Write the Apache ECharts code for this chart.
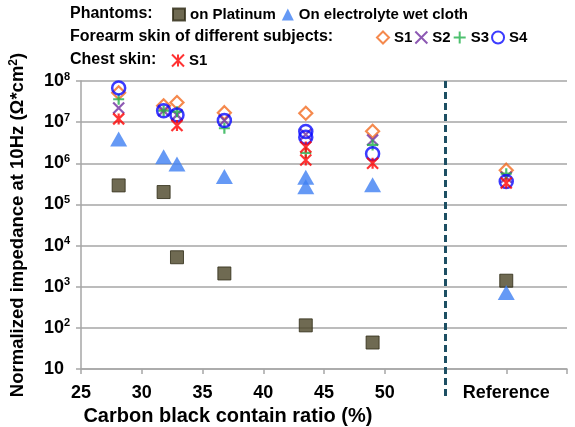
<!DOCTYPE html>
<html><head><meta charset="utf-8">
<script src="https://cdn.jsdelivr.net/npm/echarts@6/dist/echarts.min.js"></script>
<style>html,body{margin:0;padding:0;background:#fff}#c{width:575px;height:427px}</style>
</head><body><div id="c"></div>
<script>
// ---- data ----
const xTickLabelValues = [25, 30, 35, 40, 45, 50, 60];
const xTickValues = [25, 30, 35, 40, 45, 50, 60, 65];
const refX = 60;          // position of the "Reference" column
const dividerX = 55;      // dashed divider
const refLabel = 'Reference';

const platinumX = [28.1, 31.8, 32.9, 36.8, 43.5, 49.0, 60];
const platinumY = [2.9e5, 2.0e5, 5.2e3, 2.1e3, 115, 44, 1.4e3];

const clothX = [28.1, 31.8, 32.9, 36.8, 43.5, 43.5, 49.0, 60];
const clothY = [3.9e6, 1.45e6, 9.6e5, 4.8e5, 4.6e5, 2.7e5, 3.0e5, 7.2e2];

const forearmS1X = [28.1, 31.8, 32.9, 36.8, 43.5, 49.0, 60];
const forearmS1Y = [5.2e7, 2.5e7, 3.0e7, 1.7e7, 1.65e7, 6.0e6, 6.8e5];

const forearmS2X = [28.1, 31.8, 32.9, 36.8, 43.5, 49.0, 60];
const forearmS2Y = [2.2e7, 1.9e7, 1.5e7, 1.1e7, 5.0e6, 3.7e6, 4.6e5];

const forearmS3X = [28.1, 31.8, 32.9, 36.8, 43.5, 49.0, 60];
const forearmS3Y = [3.6e7, 1.9e7, 1.8e7, 7.1e6, 1.8e6, 2.8e6, 5.6e5];

const forearmS4X = [28.1, 31.8, 32.9, 36.8, 43.5, 43.5, 49.0, 60];
const forearmS4Y = [6.8e7, 1.9e7, 1.5e7, 1.1e7, 5.9e6, 4.3e6, 1.7e6, 3.6e5];

const chestS1X = [28.1, 32.9, 43.5, 43.5, 49.0, 60];
const chestS1Y = [1.2e7, 8.3e6, 2.5e6, 1.2e6, 1.0e6, 3.3e5];

const zip = (xs, ys) => xs.map((x, i) => [x, ys[i]]);
const FONT = '"Liberation Sans", Arial, sans-serif';

const chart = echarts.init(document.getElementById('c'), null, {renderer: 'canvas'});
const none = 'rgba(0,0,0,0)';
const legendText = {fontFamily: FONT, fontWeight: 'bold', fontSize: 15, color: '#000'};

const option = {
  animation: false,
  backgroundColor: '#fff',
  grid: {left: 80, right: 8, top: 81, bottom: 58},
  legend: [
    {data: ['on Platinum', 'On electrolyte wet cloth'], left: 167, top: 2, itemWidth: 12, itemHeight: 12, itemGap: 6, textStyle: legendText, selectedMode: false},
    {data: ['Forearm S1', 'S2', 'S3', 'S4'], left: 371, top: 25, itemWidth: 12, itemHeight: 12, itemGap: 2, textStyle: legendText, selectedMode: false,
     formatter: n => n.replace('Forearm ', '')},
    {data: ['Chest S1'], left: 166, top: 48, itemWidth: 12, itemHeight: 12, textStyle: legendText, selectedMode: false,
     formatter: n => n.replace('Chest ', '')}
  ],
  xAxis: {
    type: 'value', min: 25, max: 65, interval: 5,
    splitLine: {show: false},
    axisLine: {lineStyle: {color: '#a6a6a6', width: 1.5}},
    axisTick: {customValues: xTickValues, length: 5, lineStyle: {color: '#a6a6a6', width: 1.5}},
    axisLabel: {customValues: xTickLabelValues, margin: 15, fontFamily: FONT, fontWeight: 'bold', fontSize: 18, color: '#000',
      formatter: v => v === refX ? refLabel : String(v)}
  },
  yAxis: {
    type: 'log', logBase: 10, min: 10, max: 1e8,
    name: 'Normalized impedance at 10Hz (Ω*cm{s|2})',
    nameLocation: 'middle', nameGap: 54, nameRotate: 90,
    nameTextStyle: {fontFamily: FONT, fontSize: 18.5, fontWeight: 'bold', color: '#000',
      rich: {s: {fontFamily: FONT, fontSize: 12, fontWeight: 'bold', verticalAlign: 'top', color: '#000'}}},
    splitLine: {lineStyle: {color: '#a6a6a6', width: 1.5}},
    axisLine: {show: true, lineStyle: {color: '#a6a6a6', width: 1.5}},
    axisTick: {show: true, length: 5, lineStyle: {color: '#a6a6a6', width: 1.5}},
    axisLabel: {
      margin: 37, align: 'left',
      formatter: v => { const e = Math.round(Math.log10(v)); return e === 1 ? '{b|10}' : '{b|10}{s|' + e + '}'; },
      rich: {
        b: {fontFamily: FONT, fontWeight: 'bold', fontSize: 18, color: '#000', lineHeight: 20},
        s: {fontFamily: FONT, fontWeight: 'bold', fontSize: 11, color: '#000', verticalAlign: 'top', lineHeight: 12}
      }
    }
  },
  series: [
    {name: 'on Platinum', type: 'scatter', symbol: 'rect', symbolSize: 13, data: zip(platinumX, platinumY),
     itemStyle: {color: '#4b4527', borderColor: '#2e2a15', borderWidth: 1}},
    {name: 'On electrolyte wet cloth', type: 'scatter', symbol: 'triangle', symbolSize: [17, 15], data: zip(clothX, clothY),
     itemStyle: {color: '#3f7ff2'}},
    {name: 'Forearm S1', type: 'scatter', symbol: 'diamond', symbolSize: 13, data: zip(forearmS1X, forearmS1Y),
     itemStyle: {color: none, borderColor: '#f36c21', borderWidth: 2.2}},
    {name: 'S2', type: 'scatter', symbol: 'path://M0,0L10,10M10,0L0,10', symbolSize: 11, data: zip(forearmS2X, forearmS2Y),
     itemStyle: {color: none, borderColor: '#7030a0', borderWidth: 2.2}},
    {name: 'S3', type: 'scatter', symbol: 'path://M5,0L5,10M0,5L10,5', symbolSize: 11, data: zip(forearmS3X, forearmS3Y),
     itemStyle: {color: none, borderColor: '#22b04b', borderWidth: 2.2}},
    {name: 'S4', type: 'scatter', symbol: 'circle', symbolSize: 13, data: zip(forearmS4X, forearmS4Y),
     itemStyle: {color: none, borderColor: '#0a0aff', borderWidth: 2.5}},
    {name: 'Chest S1', type: 'scatter', symbol: 'path://M0,0L10,10M10,0L0,10M5,0L5,10', symbolSize: 11, data: zip(chestS1X, chestS1Y),
     itemStyle: {color: none, borderColor: '#ff0000', borderWidth: 2.2}}
  ].map(s => Object.assign(s, {emphasis: {disabled: true}, z: 3}))
};
chart.setOption(option);

const gx = chart.convertToPixel({xAxisIndex: 0}, dividerX);
const gTop = chart.convertToPixel({yAxisIndex: 0}, 1e8);
const gBottom = chart.convertToPixel({yAxisIndex: 0}, 10);
const x25 = chart.convertToPixel({xAxisIndex: 0}, 25);
const x50 = chart.convertToPixel({xAxisIndex: 0}, 50);
const titleStyle = {fontFamily: FONT, fontWeight: 'bold', fontSize: 16, fill: '#000'};
chart.setOption({
  graphic: [
    {type: 'line', shape: {x1: gx, y1: gTop, x2: gx, y2: gBottom + 30}, z: 5,
     style: {stroke: '#1d4f63', lineWidth: 3, lineDash: [7, 4]}},
    {type: 'text', x: (x25 + x50) / 2 - 5, y: gBottom + 47, style: Object.assign({text: 'Carbon black contain ratio (%)', textAlign: 'center', textVerticalAlign: 'middle'}, titleStyle, {fontSize: 20})},
    {type: 'text', x: 70, y: 14, style: Object.assign({text: 'Phantoms:', textVerticalAlign: 'middle'}, titleStyle)},
    {type: 'text', x: 70, y: 37, style: Object.assign({text: 'Forearm skin of different subjects:', textVerticalAlign: 'middle'}, titleStyle)},
    {type: 'text', x: 70, y: 60, style: Object.assign({text: 'Chest skin:', textVerticalAlign: 'middle'}, titleStyle)}
  ]
});
</script></body></html>
